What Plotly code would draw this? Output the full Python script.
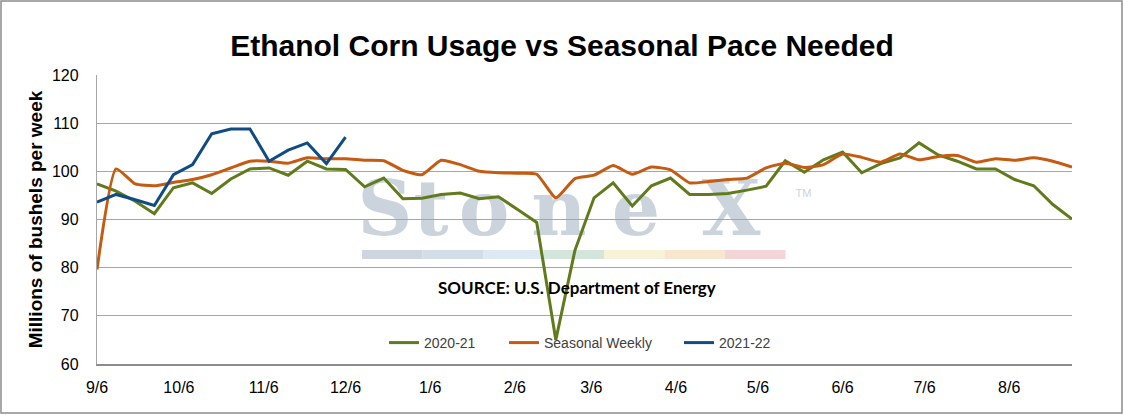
import pandas as pd
import plotly.graph_objects as go

# weekly marketing-year data, Sep through Aug (million bushels per week)
weeks = pd.date_range("2020-09-06", periods=52, freq="7D")

usage_2020_21 = [97.4, 95.9, 93.8, 91.2, 96.6, 97.6, 95.4, 98.4, 100.5, 100.7,
                 99.2, 102.1, 100.5, 100.4, 96.8, 98.6, 94.3, 94.4, 95.2, 95.5,
                 94.3, 94.7, 92.1, 89.4, 65.0, 83.6, 94.5, 97.6, 92.8, 97.0,
                 98.6, 95.2, 95.2, 95.4, 96.1, 96.9, 102.2, 99.8, 102.4, 104.0,
                 99.7, 101.6, 102.8, 105.9, 103.4, 102.1, 100.5, 100.5, 98.3, 97.0,
                 93.1, 90.1]

seasonal_weekly = [79.6, 100.5, 97.4, 97.0, 97.7, 98.3, 99.3, 100.7, 102.1, 102.1,
                   101.7, 102.8, 102.6, 102.6, 102.3, 102.2, 100.2, 99.3, 102.3, 101.4,
                   100.0, 99.7, 99.6, 99.4, 94.5, 98.5, 99.2, 101.2, 99.4, 100.9,
                   100.3, 97.6, 97.9, 98.3, 98.6, 100.7, 101.7, 100.8, 101.4, 103.6,
                   102.9, 101.9, 103.6, 102.4, 103.1, 103.3, 101.9, 102.6, 102.3, 102.8,
                   102.1, 100.9]

usage_2021_22 = [93.6, 95.2, 94.1, 92.9, 99.3, 101.4, 107.8, 108.8, 108.8, 102.1,
                 104.4, 105.9, 101.6, 107.1]

tick_dates = ["2020-09-06", "2020-10-06", "2020-11-06", "2020-12-06", "2021-01-06",
              "2021-02-06", "2021-03-06", "2021-04-06", "2021-05-06", "2021-06-06",
              "2021-07-06", "2021-08-06"]
tick_labels = ["9/6", "10/6", "11/6", "12/6", "1/6", "2/6", "3/6", "4/6", "5/6",
               "6/6", "7/6", "8/6"]

W, H = 1124, 415
L, R, T, B = 97, 1072, 75, 364


def px(x):
    return (x - L) / (R - L)


def py(y):
    return (B - y) / (B - T)


fig = go.Figure()
fig.add_trace(go.Scatter(x=weeks, y=usage_2020_21, name="2020-21", mode="lines",
                         line=dict(color="#617A1B", width=3), legend="legend"))
fig.add_trace(go.Scatter(x=weeks, y=seasonal_weekly, name="Seasonal Weekly", mode="lines",
                         line=dict(color="#C55A11", width=3, shape="spline", smoothing=0.5),
                         legend="legend2"))
fig.add_trace(go.Scatter(x=weeks[:len(usage_2021_22)], y=usage_2021_22, name="2021-22",
                         mode="lines", line=dict(color="#114B84", width=3), legend="legend3"))

shapes = []
# StoneX watermark, letter by letter so it can sit under the grid and lines
for ch, cx in zip("StoneX", [385, 431, 484, 559, 636, 731]):
    shapes.append(dict(type="rect", xref="paper", yref="paper", layer="below",
                       x0=px(cx - 45), x1=px(cx + 45), y0=py(234), y1=py(172),
                       line=dict(width=0), fillcolor="rgba(0,0,0,0)",
                       label=dict(text="<b>" + ch + "</b>", textposition="middle center",
                                  font=dict(family="DejaVu Serif", size=76, color="#CBD4DD"))))
shapes.append(dict(type="rect", xref="paper", yref="paper", layer="below",
                   x0=px(792), x1=px(815), y0=py(199), y1=py(185),
                   line=dict(width=0), fillcolor="rgba(0,0,0,0)",
                   label=dict(text="TM", textposition="middle center",
                              font=dict(family="Liberation Sans", size=11, color="#CBD4DD"))))
stripe_colors = ["#CDD5DF", "#D2DDE8", "#DDEAF4", "#D4E5DB", "#F6F3D9", "#F9E6CF", "#F3D4D7"]
for i, c in enumerate(stripe_colors):
    x0 = 362 + i * 60.5
    shapes.append(dict(type="rect", xref="paper", yref="paper", layer="below",
                       x0=px(x0), x1=px(x0 + 60.5), y0=py(259), y1=py(250),
                       line=dict(width=0), fillcolor=c))
# outer frame
shapes.append(dict(type="rect", xref="paper", yref="paper",
                   x0=px(1), x1=px(1122), y0=py(413), y1=py(1),
                   line=dict(color="#8C8C8C", width=1.5)))

leg = dict(orientation="h", yanchor="middle", xanchor="left", bgcolor="rgba(0,0,0,0)",
           font=dict(size=14, color="#404040"), itemwidth=30)

fig.update_layout(
    width=W, height=H,
    margin=dict(l=L, r=W - R, t=T, b=H - B),
    paper_bgcolor="white", plot_bgcolor="white",
    title=dict(text="<b>Ethanol Corn Usage vs Seasonal Pace Needed</b>",
               x=0.5, xref="container", y=1 - 45 / H, yref="container",
               xanchor="center", yanchor="middle",
               font=dict(family="Liberation Sans", size=30, color="black")),
    font=dict(family="Liberation Sans", color="black"),
    showlegend=True,
    legend=dict(leg, x=px(384), y=py(343)),
    legend2=dict(leg, x=px(504), y=py(343)),
    legend3=dict(leg, x=px(679), y=py(343)),
    shapes=shapes,
    annotations=[dict(text="<b>SOURCE: U.S. Department of Energy</b>", xref="paper", yref="paper",
                      x=px(577), y=py(287), xanchor="center", yanchor="middle", showarrow=False,
                      font=dict(family="Lato", size=17, color="black"))],
)
fig.update_xaxes(type="date", range=[weeks[0], weeks[-1]],
                 tickvals=tick_dates, ticktext=tick_labels,
                 tickfont=dict(size=16), showgrid=False, ticklabelstandoff=8,
                 showline=True, linecolor="#8C8C8C", linewidth=2, ticks="")
fig.update_yaxes(range=[60, 120], dtick=10, tickfont=dict(size=16),
                 showgrid=True, gridcolor="#A6A6A6", gridwidth=1.3,
                 showline=True, linecolor="#A6A6A6", linewidth=1.3,
                 ticklabelstandoff=14, zeroline=False,
                 title=dict(text="<b>Millions of bushels per week</b>", standoff=4,
                            font=dict(size=19, color="black")))

fig.write_html("out.html", config={"displayModeBar": False},
               post_script="document.body.style.margin='0';")
